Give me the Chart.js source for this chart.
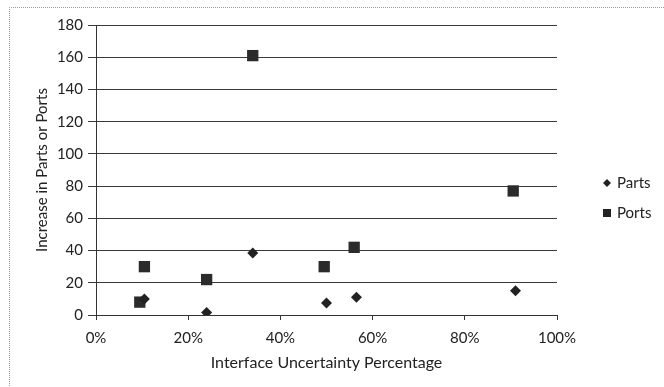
<!DOCTYPE html>
<html>
<head>
<meta charset="utf-8">
<script src="https://cdn.jsdelivr.net/npm/chart.js@4"></script>
<style>
  html, body { margin: 0; padding: 0; background: #fff; }
  #wrap { width: 664px; height: 387px; }
</style>
</head>
<body>
<div id="wrap"><canvas id="main_chart" width="664" height="387"></canvas></div>
<script>
// interface uncertainty (%) vs. increase in parts / ports
let partsX = [10.5, 24, 34, 50, 56.5, 91];
let partsY = [10, 1.5, 38.5, 7.5, 11, 15];
let portsX = [9.5, 10.5, 24, 34, 49.5, 56, 90.5];
let portsY = [8, 30, 22, 161, 30, 42, 77];
let seriesNames = ['Parts', 'Ports'];
let xTitle = 'Interface Uncertainty Percentage';
let yTitle = 'Increase in Parts or Ports';

function toPoints(xs, ys) {
    return xs.map((x, i) => ({x: x, y: ys[i]}));
}

const FONT = 'Lato, "Open Sans", sans-serif';
const INK = '#222';

// dotted frame around the whole chart plus a hand-drawn legend on the right
const framePlugin = {
    id: 'frame',
    beforeDraw(chart) {
        let ctx = chart.ctx;
        ctx.save();
        ctx.strokeStyle = '#9a9a9a';
        ctx.lineWidth = 1;
        ctx.setLineDash([1, 1]);
        ctx.beginPath();
        ctx.moveTo(9.5, 400);
        ctx.lineTo(9.5, 7.5);
        ctx.lineTo(670, 7.5);
        ctx.stroke();
        ctx.restore();
    },
    afterDraw(chart) {
        let ctx = chart.ctx;
        ctx.save();
        ctx.fillStyle = INK;
        // Parts: diamond
        let x = 607, y = 183;
        ctx.beginPath();
        ctx.moveTo(x - 4, y);
        ctx.lineTo(x, y - 4);
        ctx.lineTo(x + 4, y);
        ctx.lineTo(x, y + 4);
        ctx.closePath();
        ctx.fill();
        // Ports: square
        ctx.fillRect(603, 209, 8, 8);
        ctx.font = '15px ' + FONT;
        ctx.textBaseline = 'middle';
        ctx.fillText(seriesNames[0], 617, 183);
        ctx.fillText(seriesNames[1], 617, 213);
        ctx.restore();
    }
};

new Chart(document.getElementById('main_chart'), {
    type: 'scatter',
    data: {
        datasets: [{
            label: seriesNames[0],
            data: toPoints(partsX, partsY),
            pointStyle: 'rectRot',
            pointRadius: 5.5,
            pointHoverRadius: 5.5,
            backgroundColor: INK,
            borderColor: INK,
            borderWidth: 0
        }, {
            label: seriesNames[1],
            data: toPoints(portsX, portsY),
            pointStyle: 'rect',
            pointRadius: 8,
            pointHoverRadius: 8,
            backgroundColor: '#2b2b2b',
            borderColor: '#2b2b2b',
            borderWidth: 0
        }]
    },
    plugins: [framePlugin],
    options: {
        responsive: false,
        animation: false,
        events: [],
        layout: {
            padding: {top: 25, right: 107, left: 0, bottom: 0}
        },
        plugins: {
            legend: {display: false},
            tooltip: {enabled: false}
        },
        scales: {
            x: {
                type: 'linear',
                min: 0,
                max: 100,
                afterFit: (scale) => { scale.height = 72; },
                ticks: {
                    stepSize: 20,
                    color: INK,
                    padding: 9,
                    font: {family: FONT, size: 15},
                    callback: (v) => v + '%'
                },
                grid: {
                    drawOnChartArea: false,
                    drawTicks: true,
                    tickLength: 5,
                    color: '#333'
                },
                border: {color: '#333', width: 1},
                title: {
                    display: true,
                    text: xTitle,
                    color: INK,
                    font: {family: FONT, size: 16},
                    padding: {bottom: 15}
                }
            },
            y: {
                min: 0,
                max: 180,
                afterFit: (scale) => { scale.width = 96; },
                ticks: {
                    stepSize: 20,
                    color: INK,
                    padding: 5,
                    font: {family: FONT, size: 15}
                },
                grid: {
                    color: '#3a3a3a',
                    tickLength: 8,
                    lineWidth: 1
                },
                border: {color: '#333', width: 1},
                title: {
                    display: true,
                    text: yTitle,
                    color: INK,
                    font: {family: FONT, size: 15},
                    padding: {top: 33}
                }
            }
        }
    }
});
</script>
</body>
</html>
